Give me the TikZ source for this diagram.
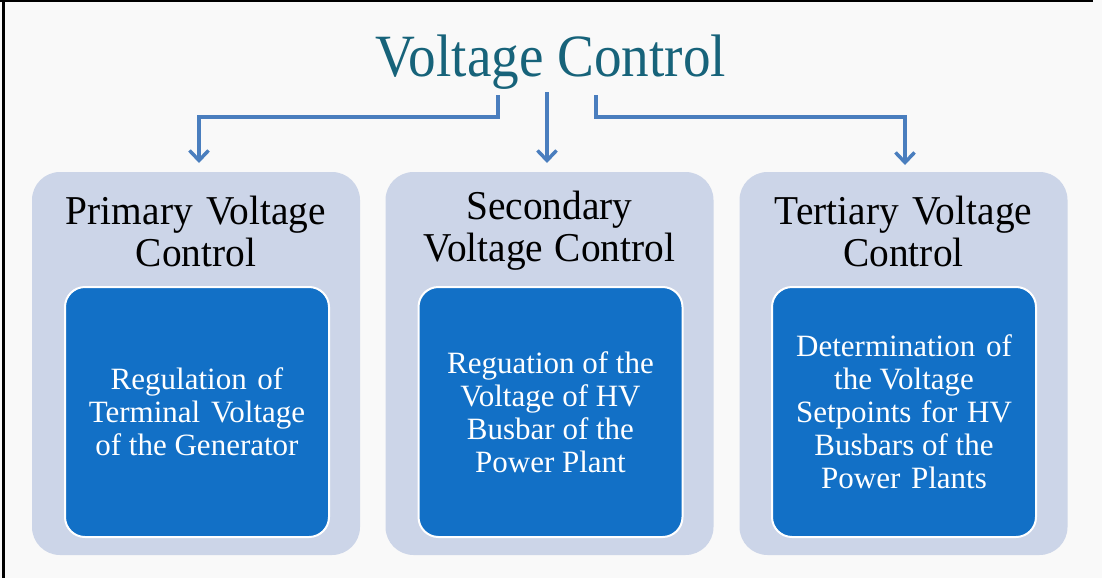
\documentclass[tikz,border=0pt]{standalone}
\usepackage{fontspec}
\setmainfont{Liberation Serif}
\usetikzlibrary{arrows.meta}
\definecolor{bgcol}{HTML}{F9F9F9}
\definecolor{outerfill}{HTML}{CCD5E8}
\definecolor{innerfill}{HTML}{1270C6}
\definecolor{titlecol}{HTML}{17637A}
\definecolor{arrowcol}{HTML}{4A7EBE}
\tikzset{
  outerbox/.style={fill=outerfill, rounded corners=28pt, minimum width=328pt, minimum height=383pt, inner sep=0pt},
  innerbox/.style={fill=innerfill, draw=white, line width=2pt, rounded corners=20pt, minimum width=264pt, minimum height=250pt, inner sep=0pt,
    text=white, align=center, font=\fontsize{31}{33}\selectfont},
  headtext/.style={align=center, text=black, font=\fontsize{41}{42}\selectfont, xscale=0.96, transform shape, inner sep=0pt},
  titletext/.style={text=titlecol, font=\fontsize{60}{64}\selectfont, xscale=0.92, transform shape, inner sep=0pt, anchor=base},
  conn/.style={draw=arrowcol, line width=3.5pt, -{Straight Barb[length=10pt,width=19pt]}},
}
\begin{document}
\begin{tikzpicture}[x=1pt,y=-1pt]
\useasboundingbox (0,0) rectangle (1102,578);
\fill[bgcol] (0,0) rectangle (1102,578);
\draw[black, line width=3pt] (3.5,0) -- (3.5,578);
\draw[black, line width=2pt] (0,1) -- (1093,1);

\node[titletext] (title) at (551,77) {Voltage Control};

\node[outerbox] (o1) at (196,363.5) {};
\node[outerbox] (o2) at (549.5,363.5) {};
\node[outerbox] (o3) at (903.5,363.5) {};

\node[headtext] (h1) at (196,231) {Primary\hspace{4pt} Voltage\\Control};
\node[headtext] (h2) at (549.5,231) {Secondary\\Voltage\hspace{2pt} Control};
\node[headtext] (h3) at (903.5,231) {Tertiary\hspace{4pt} Voltage\\Control};

\node[innerbox] (i1) at (197,412) {Regulation\hspace{3pt} of\\Terminal\hspace{3pt} Voltage\\of the Generator};
\node[innerbox] (i2) at (550.5,412) {Reguation of the\\Voltage of HV\\Busbar of the\\Power Plant};
\node[innerbox] (i3) at (904,412) {Determination\hspace{3pt} of\\the Voltage\\Setpoints\hspace{2pt} for\hspace{2pt} HV\\Busbars of the\\Power\hspace{3pt} Plants};

\coordinate (s1) at (498,95);
\coordinate (m1) at (199,117);
\coordinate (e1) at (199,163);
\coordinate (s2) at (547,92);
\coordinate (e2) at (547,163);
\coordinate (s3) at (596,95);
\coordinate (m3) at (905,117);
\coordinate (e3) at (905,165);

\draw[conn] (s1) |- (m1) -- (e1);
\draw[conn] (s2) -- (e2);
\draw[conn] (s3) |- (m3) -- (e3);
\end{tikzpicture}
\end{document}
